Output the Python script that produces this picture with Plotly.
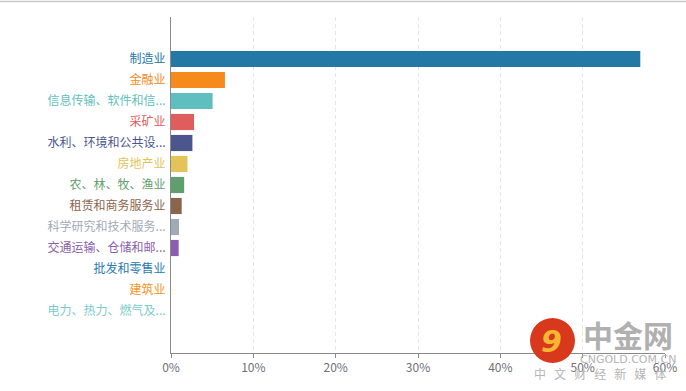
import plotly.graph_objects as go

categories = ["制造业", "金融业", "信息传输、软件和信...", "采矿业", "水利、环境和公共设...",
              "房地产业", "农、林、牧、渔业", "租赁和商务服务业", "科学研究和技术服务...",
              "交通运输、仓储和邮...", "批发和零售业", "建筑业", "电力、热力、燃气及..."]
values = [57.0, 6.55, 5.05, 2.8, 2.6, 2.0, 1.6, 1.3, 0.97, 0.93, 0.0, 0.0, 0.0]
colors = ["#2478a6", "#f78a1d", "#5fbfc0", "#e05d5d", "#4a568d", "#e4c45a", "#5f9f6e",
          "#8b654b", "#a1abb6", "#8a5fae", "#2a7ab0", "#f7941d", "#7ccbcb"]
xtick_vals = [0, 10, 20, 30, 40, 50, 60]
xtick_text = ["0%", "10%", "20%", "30%", "40%", "50%", "60%"]

W, H = 686, 391
L, R, T, B = 171, 21, 17, 38
PW, PH = W - L - R, H - T - B


def px_x(p):
    return (p - L) / PW


def px_y(p):
    return (H - B - p) / PH


idx = list(range(len(categories)))
fig = go.Figure()
fig.add_trace(go.Bar(
    x=values, y=idx, orientation="h",
    marker=dict(color=colors, line=dict(width=0)),
    width=0.77, hoverinfo="skip",
))

fig.update_layout(
    width=W, height=H,
    margin=dict(l=L, r=R, t=T, b=B, autoexpand=False),
    paper_bgcolor="white", plot_bgcolor="white",
    showlegend=False,
    font=dict(family="Noto Sans CJK SC", size=12, color="#6e7079"),
    xaxis=dict(
        range=[0, 60], tickvals=xtick_vals, ticktext=xtick_text,
        showgrid=True, gridcolor="#e6e6e6", griddash="4px,3px", gridwidth=1,
        showline=True, linecolor="#8a8a8a", linewidth=1,
        ticks="outside", ticklen=4, tickcolor="#8a8a8a",
        zeroline=False, tickfont=dict(size=12, color="#6e7079"), automargin=False,
    ),
    yaxis=dict(
        range=[len(categories) + 1, -2],
        tickvals=idx,
        ticktext=[f'<span style="color:{c}">{t}</span>' for t, c in zip(categories, colors)],
        showgrid=False, showline=True, linecolor="#8a8a8a", linewidth=1,
        ticks="", zeroline=False, tickfont=dict(size=12),
        ticklabelstandoff=2, automargin=False,
    ),
)

# top border line
fig.add_shape(type="line", xref="paper", yref="paper", x0=px_x(0), x1=px_x(W), y0=px_y(1.5), y1=px_y(1.5),
              line=dict(color="#c8c8c8", width=1.5))

# watermark logo
fig.add_shape(type="circle", xref="paper", yref="paper",
              x0=px_x(530), x1=px_x(575), y0=px_y(363), y1=px_y(318),
              fillcolor="#d8381c", line=dict(width=0), layer="above")
fig.add_annotation(text="<b><i>9</i></b>", xref="paper", yref="paper", x=px_x(551), y=px_y(341),
                   xanchor="center", yanchor="middle",
                   showarrow=False, font=dict(size=30, color="#f5b731", family="DejaVu Sans"))
fig.add_annotation(text="<b>中金网</b>", xref="paper", yref="paper", x=px_x(628), y=px_y(334),
                   xanchor="center", yanchor="middle",
                   showarrow=False, font=dict(size=30, color="#b0b0b0", family="Noto Sans CJK SC"))
fig.add_annotation(text="CNGOLD.COM.CN", xref="paper", yref="paper", x=px_x(628), y=px_y(359),
                   xanchor="center", yanchor="middle",
                   showarrow=False, font=dict(size=11, color="#b5b5b5", family="DejaVu Sans"))
fig.add_annotation(text="中   文   财   经   新   媒   体", xref="paper", yref="paper", x=px_x(600),
                   y=px_y(373), xanchor="center", yanchor="middle",
                   showarrow=False, font=dict(size=12, color="#b5b5b5", family="Noto Sans CJK SC"))

fig.write_html("out.html", post_script="document.body.style.margin='0px';",
               config={"displayModeBar": False})
